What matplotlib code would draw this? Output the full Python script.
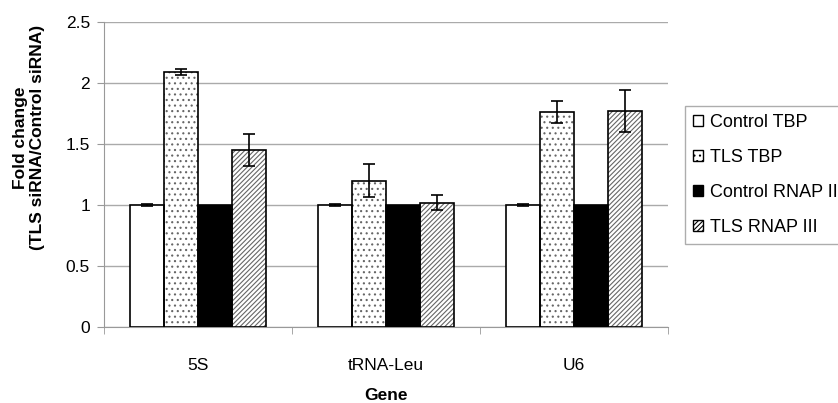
import numpy as np
import matplotlib.pyplot as plt
from matplotlib.patches import Patch

plt.rcParams['font.family'] = ['Liberation Sans', 'DejaVu Sans']
plt.rcParams['hatch.linewidth'] = 0.8

genes = ['5S', 'tRNA-Leu', 'U6']
series = ['Control TBP', 'TLS TBP', 'Control RNAP II', 'TLS RNAP III']
values = [
    [1.0, 1.0, 1.0],       # Control TBP
    [2.09, 1.20, 1.76],    # TLS TBP
    [1.0, 1.0, 1.0],       # Control RNAP II
    [1.45, 1.02, 1.77],    # TLS RNAP III
]
errors = [
    [0.005, 0.005, 0.005],
    [0.025, 0.135, 0.09],
    [0.0, 0.0, 0.0],
    [0.13, 0.06, 0.17],
]
fills = ['white', 'white', 'black', 'white']
hatches = [None, '...', None, '///////']

fig = plt.figure(figsize=(8.38, 4.03), dpi=100)
ax = fig.add_axes([0.124, 0.1886, 0.673, 0.7568])

x = np.arange(len(genes))
w = 1 / 5.5
for i in range(len(series)):
    pos = x - 1.5 * w + i * w
    if hatches[i]:
        ax.bar(pos, values[i], w, color=fills[i], edgecolor='#666666',
               hatch=hatches[i], linewidth=0, zorder=2)
    ax.bar(pos, values[i], w, color=fills[i] if not hatches[i] else 'none',
           edgecolor='black', linewidth=1.2, zorder=3)
    if max(errors[i]) > 0:
        ax.errorbar(pos, values[i], yerr=errors[i], fmt='none', ecolor='black',
                    elinewidth=1.2, capsize=4, capthick=1.2, zorder=4)

ax.set_xlim(-0.5, 2.5)
ax.set_ylim(0, 2.5)
ax.set_yticks(np.arange(0, 2.51, 0.5))
ax.set_yticklabels(['0', '0.5', '1', '1.5', '2', '2.5'])
ax.set_xticks(x)
ax.set_xticklabels(genes)
ax.set_xticks([-0.5, 0.5, 1.5, 2.5], minor=True)
ax.tick_params(axis='x', which='major', length=0, labelsize=12.5, pad=22)
ax.tick_params(axis='x', which='minor', length=5, color='#999999')
ax.tick_params(axis='y', length=5, color='#999999', labelsize=12.5, pad=5)
ax.yaxis.grid(True, color='#aaaaaa', linewidth=1)
ax.set_axisbelow(True)
for s in ['top', 'right']:
    ax.spines[s].set_visible(False)
for s in ['left', 'bottom']:
    ax.spines[s].set_color('#999999')

ax.set_ylabel('Fold change\n(TLS siRNA/Control siRNA)', fontsize=12.5,
              fontweight='bold', va='center', linespacing=1.15)
ax.yaxis.set_label_coords(-0.133, 0.62)
ax.set_xlabel('Gene', fontsize=12.5, fontweight='bold', va='center')
ax.xaxis.set_label_coords(0.5, -0.223)

handles = [Patch(facecolor=fills[i], edgecolor='black', hatch=hatches[i],
                 label=series[i]) for i in range(len(series))]
leg = fig.legend(handles=handles, loc='center left', bbox_to_anchor=(0.817, 0.566),
                 fontsize=13, frameon=True, fancybox=False, handlelength=0.55,
                 handleheight=0.55, handletextpad=0.4, labelspacing=1.0,
                 borderpad=0.45, borderaxespad=0)
leg.get_frame().set_edgecolor('#999999')
leg.get_frame().set_linewidth(1)

fig.savefig('out.png', dpi=100)
